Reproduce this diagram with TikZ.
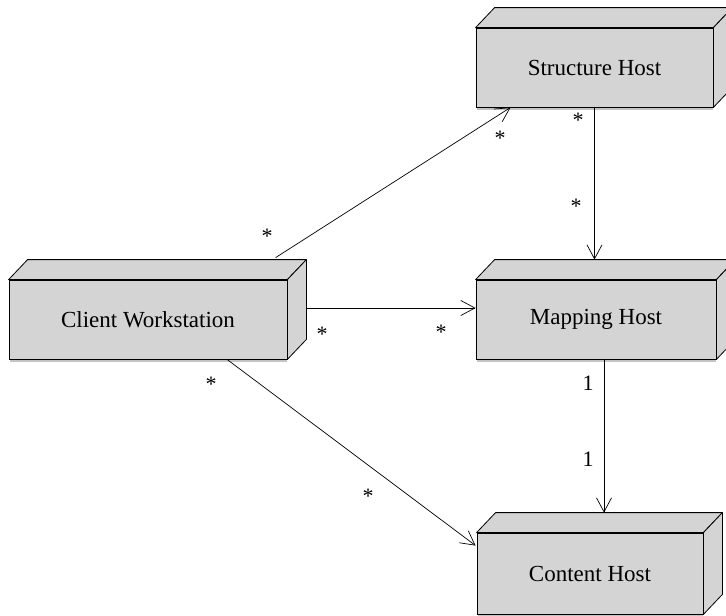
\documentclass[tikz,border=0pt]{standalone}
\usepackage{fontspec}
\setmainfont{Liberation Serif}
\usetikzlibrary{arrows.meta}
\definecolor{boxgray}{RGB}{212,212,212}
\definecolor{shadowgray}{RGB}{196,196,196}
\tikzset{
  host/.style={draw=black, fill=boxgray, line width=0.8pt, inner sep=0pt, font=\fontsize{23}{27}\selectfont},
  face/.style={draw=black, fill=boxgray, line width=0.8pt, line join=round},
  arr/.style={-{Straight Barb[length=14pt,width=15pt]}, line width=0.7pt},
  mult/.style={font=\fontsize{22}{26}\selectfont, inner sep=0pt},
}
\newcommand{\hostbox}[1]{%
  \fill[shadowgray] ([shift={(1,0.4)}]#1.south west) rectangle ([shift={(0,3)}]#1.south east);
  \draw[face] (#1.north west) -- ++(19,-20) -- ([shift={(19,-20)}]#1.north east) -- (#1.north east) -- cycle;
  \draw[face] (#1.north east) -- ++(19,-20) -- ([shift={(19,-20)}]#1.south east) -- (#1.south east) -- cycle;
}
\begin{document}
\begin{tikzpicture}[x=1pt,y=-1pt]
\useasboundingbox (0,0) rectangle (726,616);
\node[host, minimum width=237pt, minimum height=79pt] (sh) at (594.5,67.5) {Structure Host};
\node[host, minimum width=278pt, minimum height=79pt] (cw) at (148,319.5) {Client Workstation};
\node[host, minimum width=240pt, minimum height=79pt] (mh) at (596,319.5) {Mapping Host};
\node[host, minimum width=226pt, minimum height=81pt] (ch) at (590,573.5) {Content Host};
\hostbox{sh}
\hostbox{cw}
\hostbox{mh}
\hostbox{ch}
% connectors
\draw[arr] ([shift={(267,-22)}]cw.north west) -- ([xshift=35pt]sh.south west);
\draw[arr] (sh.south) -- ([yshift=20pt]sh.south |- mh.north);
\draw[arr] ([shift={(19,-11.5)}]cw.east) coordinate (a) -- (a -| mh.west);
\draw[arr] ([xshift=79pt]cw.south) -- ([shift={(-1,13)}]ch.north west);
\draw[arr] ([xshift=8pt]mh.south) coordinate (b) -- ([yshift=20pt]b |- ch.north);
% multiplicities
\node[mult] (m1) at (267,236) {*};
\node[mult] (m2) at (500,138) {*};
\node[mult] (m3) at (578,120) {*};
\node[mult] (m4) at (576,206) {*};
\node[mult] (m5) at (322,334) {*};
\node[mult] (m6) at (441,332) {*};
\node[mult] (m7) at (211,384) {*};
\node[mult] (m8) at (368,496) {*};
\node[mult] (m9) at (588,383) {1};
\node[mult] (m10) at (588,459) {1};
\end{tikzpicture}
\end{document}
